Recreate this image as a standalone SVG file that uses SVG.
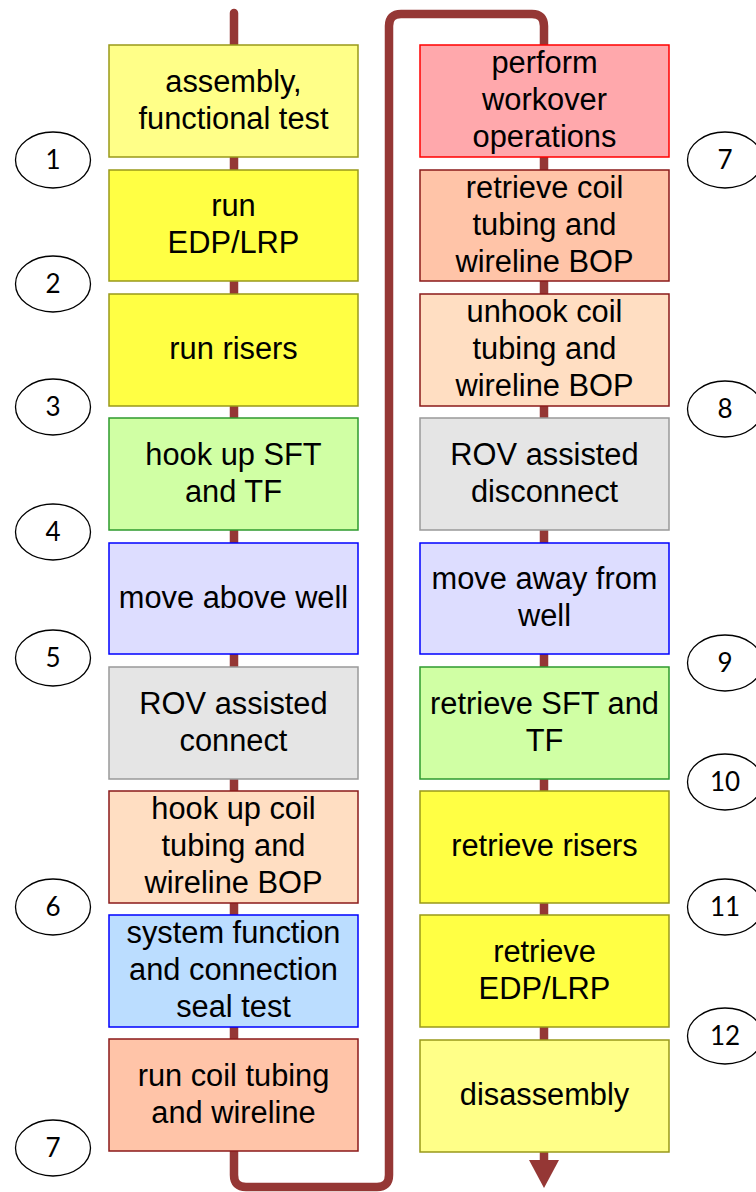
<svg xmlns="http://www.w3.org/2000/svg" width="756" height="1192" viewBox="0 0 756 1192">
<defs>
<style>
.box{stroke-width:1.5}
.t{font-family:"Liberation Sans",Arial,sans-serif;font-size:30.8px;fill:#000;text-anchor:middle}
.n{font-family:Lato,"Open Sans",sans-serif;font-size:26px;fill:#000;text-anchor:middle}
.e{fill:#fff;stroke:#000;stroke-width:1.3}
.ly{fill:#FFFF88;stroke:#99991A}
.by{fill:#FFFF44;stroke:#99991A}
.gr{fill:#D0FFA4;stroke:#2E9A2E}
.lv{fill:#DDDDFF;stroke:#0000FF}
.gy{fill:#E5E5E5;stroke:#999999}
.pc{fill:#FFDEC2;stroke:#8B1A1A}
.sa{fill:#FFC4A8;stroke:#8B1A1A}
.bl{fill:#BBDDFF;stroke:#0000FF}
.rd{fill:#FFA8AC;stroke:#FF0000}
</style>
<marker id="ah" markerUnits="userSpaceOnUse" markerWidth="30" markerHeight="30" viewBox="0 0 30 30" refX="0" refY="15" orient="auto">
<path d="M0,0 L28,15 L0,30 z" fill="#953735"/>
</marker>
</defs>
<rect width="756" height="1192" fill="#fff"/>
<g id="connectors">
<path d="M234,13 V1175 Q234,1187 246,1187 H377 Q389,1187 389,1175 V26 Q389,14 401,14 H532 Q544,14 544,26 V1160" fill="none" stroke="#953735" stroke-width="8.5" stroke-linecap="round" stroke-linejoin="round" marker-end="url(#ah)"/>
</g>
<g id="L1"><rect class="box ly" x="109" y="45" width="249" height="112"/><text class="t" x="233.5" y="92">assembly,</text><text class="t" x="233.5" y="129">functional test</text></g>
<g id="L2"><rect class="box by" x="109" y="170" width="249" height="111"/><text class="t" x="233.5" y="216">run</text><text class="t" x="233.5" y="253">EDP/LRP</text></g>
<g id="L3"><rect class="box by" x="109" y="294" width="249" height="112"/><text class="t" x="233.5" y="359">run risers</text></g>
<g id="L4"><rect class="box gr" x="109" y="418" width="249" height="112"/><text class="t" x="233.5" y="465">hook up SFT</text><text class="t" x="233.5" y="502">and TF</text></g>
<g id="L5"><rect class="box lv" x="109" y="543" width="249" height="111"/><text class="t" x="233.5" y="608">move above well</text></g>
<g id="L6"><rect class="box gy" x="109" y="667" width="249" height="112"/><text class="t" x="233.5" y="714">ROV assisted</text><text class="t" x="233.5" y="751">connect</text></g>
<g id="L7"><rect class="box pc" x="109" y="791" width="249" height="112"/><text class="t" x="233.5" y="819">hook up coil</text><text class="t" x="233.5" y="856">tubing and</text><text class="t" x="233.5" y="893">wireline BOP</text></g>
<g id="L8"><rect class="box bl" x="109" y="915" width="249" height="112"/><text class="t" x="233.5" y="943">system function</text><text class="t" x="233.5" y="980">and connection</text><text class="t" x="233.5" y="1017">seal test</text></g>
<g id="L9"><rect class="box sa" x="109" y="1039" width="249" height="112"/><text class="t" x="233.5" y="1086">run coil tubing</text><text class="t" x="233.5" y="1123">and wireline</text></g>
<g id="R1"><rect class="box rd" x="420" y="45" width="249" height="112"/><text class="t" x="544.5" y="73">perform</text><text class="t" x="544.5" y="110">workover</text><text class="t" x="544.5" y="147">operations</text></g>
<g id="R2"><rect class="box sa" x="420" y="170" width="249" height="111"/><text class="t" x="544.5" y="198">retrieve coil</text><text class="t" x="544.5" y="235">tubing and</text><text class="t" x="544.5" y="272">wireline BOP</text></g>
<g id="R3"><rect class="box pc" x="420" y="294" width="249" height="112"/><text class="t" x="544.5" y="322">unhook coil</text><text class="t" x="544.5" y="359">tubing and</text><text class="t" x="544.5" y="396">wireline BOP</text></g>
<g id="R4"><rect class="box gy" x="420" y="418" width="249" height="112"/><text class="t" x="544.5" y="465">ROV assisted</text><text class="t" x="544.5" y="502">disconnect</text></g>
<g id="R5"><rect class="box lv" x="420" y="543" width="249" height="111"/><text class="t" x="544.5" y="589">move away from</text><text class="t" x="544.5" y="626">well</text></g>
<g id="R6"><rect class="box gr" x="420" y="667" width="249" height="112"/><text class="t" x="544.5" y="714">retrieve SFT and</text><text class="t" x="544.5" y="751">TF</text></g>
<g id="R7"><rect class="box by" x="420" y="791" width="249" height="112"/><text class="t" x="544.5" y="856">retrieve risers</text></g>
<g id="R8"><rect class="box by" x="420" y="915" width="249" height="112"/><text class="t" x="544.5" y="962">retrieve</text><text class="t" x="544.5" y="999">EDP/LRP</text></g>
<g id="R9"><rect class="box ly" x="420" y="1040" width="249" height="112"/><text class="t" x="544.5" y="1105">disassembly</text></g>
<g id="m1"><ellipse class="e" cx="53" cy="160" rx="37.5" ry="28"/><text class="n" x="53" y="169">1</text></g>
<g id="m2"><ellipse class="e" cx="53" cy="284" rx="37.5" ry="28"/><text class="n" x="53" y="293">2</text></g>
<g id="m3"><ellipse class="e" cx="53" cy="407" rx="37.5" ry="28"/><text class="n" x="53" y="416">3</text></g>
<g id="m4"><ellipse class="e" cx="53" cy="532" rx="37.5" ry="28"/><text class="n" x="53" y="541">4</text></g>
<g id="m5"><ellipse class="e" cx="53" cy="658" rx="37.5" ry="28"/><text class="n" x="53" y="667">5</text></g>
<g id="m6"><ellipse class="e" cx="53" cy="907" rx="37.5" ry="28"/><text class="n" x="53" y="916">6</text></g>
<g id="m7a"><ellipse class="e" cx="53" cy="1148" rx="37.5" ry="28"/><text class="n" x="53" y="1157">7</text></g>
<g id="m7b"><ellipse class="e" cx="725" cy="160" rx="37.5" ry="28"/><text class="n" x="725" y="169">7</text></g>
<g id="m8"><ellipse class="e" cx="725" cy="409" rx="37.5" ry="28"/><text class="n" x="725" y="418">8</text></g>
<g id="m9"><ellipse class="e" cx="725" cy="663" rx="37.5" ry="28"/><text class="n" x="725" y="672">9</text></g>
<g id="m10"><ellipse class="e" cx="725" cy="782" rx="37.5" ry="28"/><text class="n" x="725" y="791">10</text></g>
<g id="m11"><ellipse class="e" cx="725" cy="907" rx="37.5" ry="28"/><text class="n" x="725" y="916">11</text></g>
<g id="m12"><ellipse class="e" cx="725" cy="1036" rx="37.5" ry="28"/><text class="n" x="725" y="1045">12</text></g>
</svg>
